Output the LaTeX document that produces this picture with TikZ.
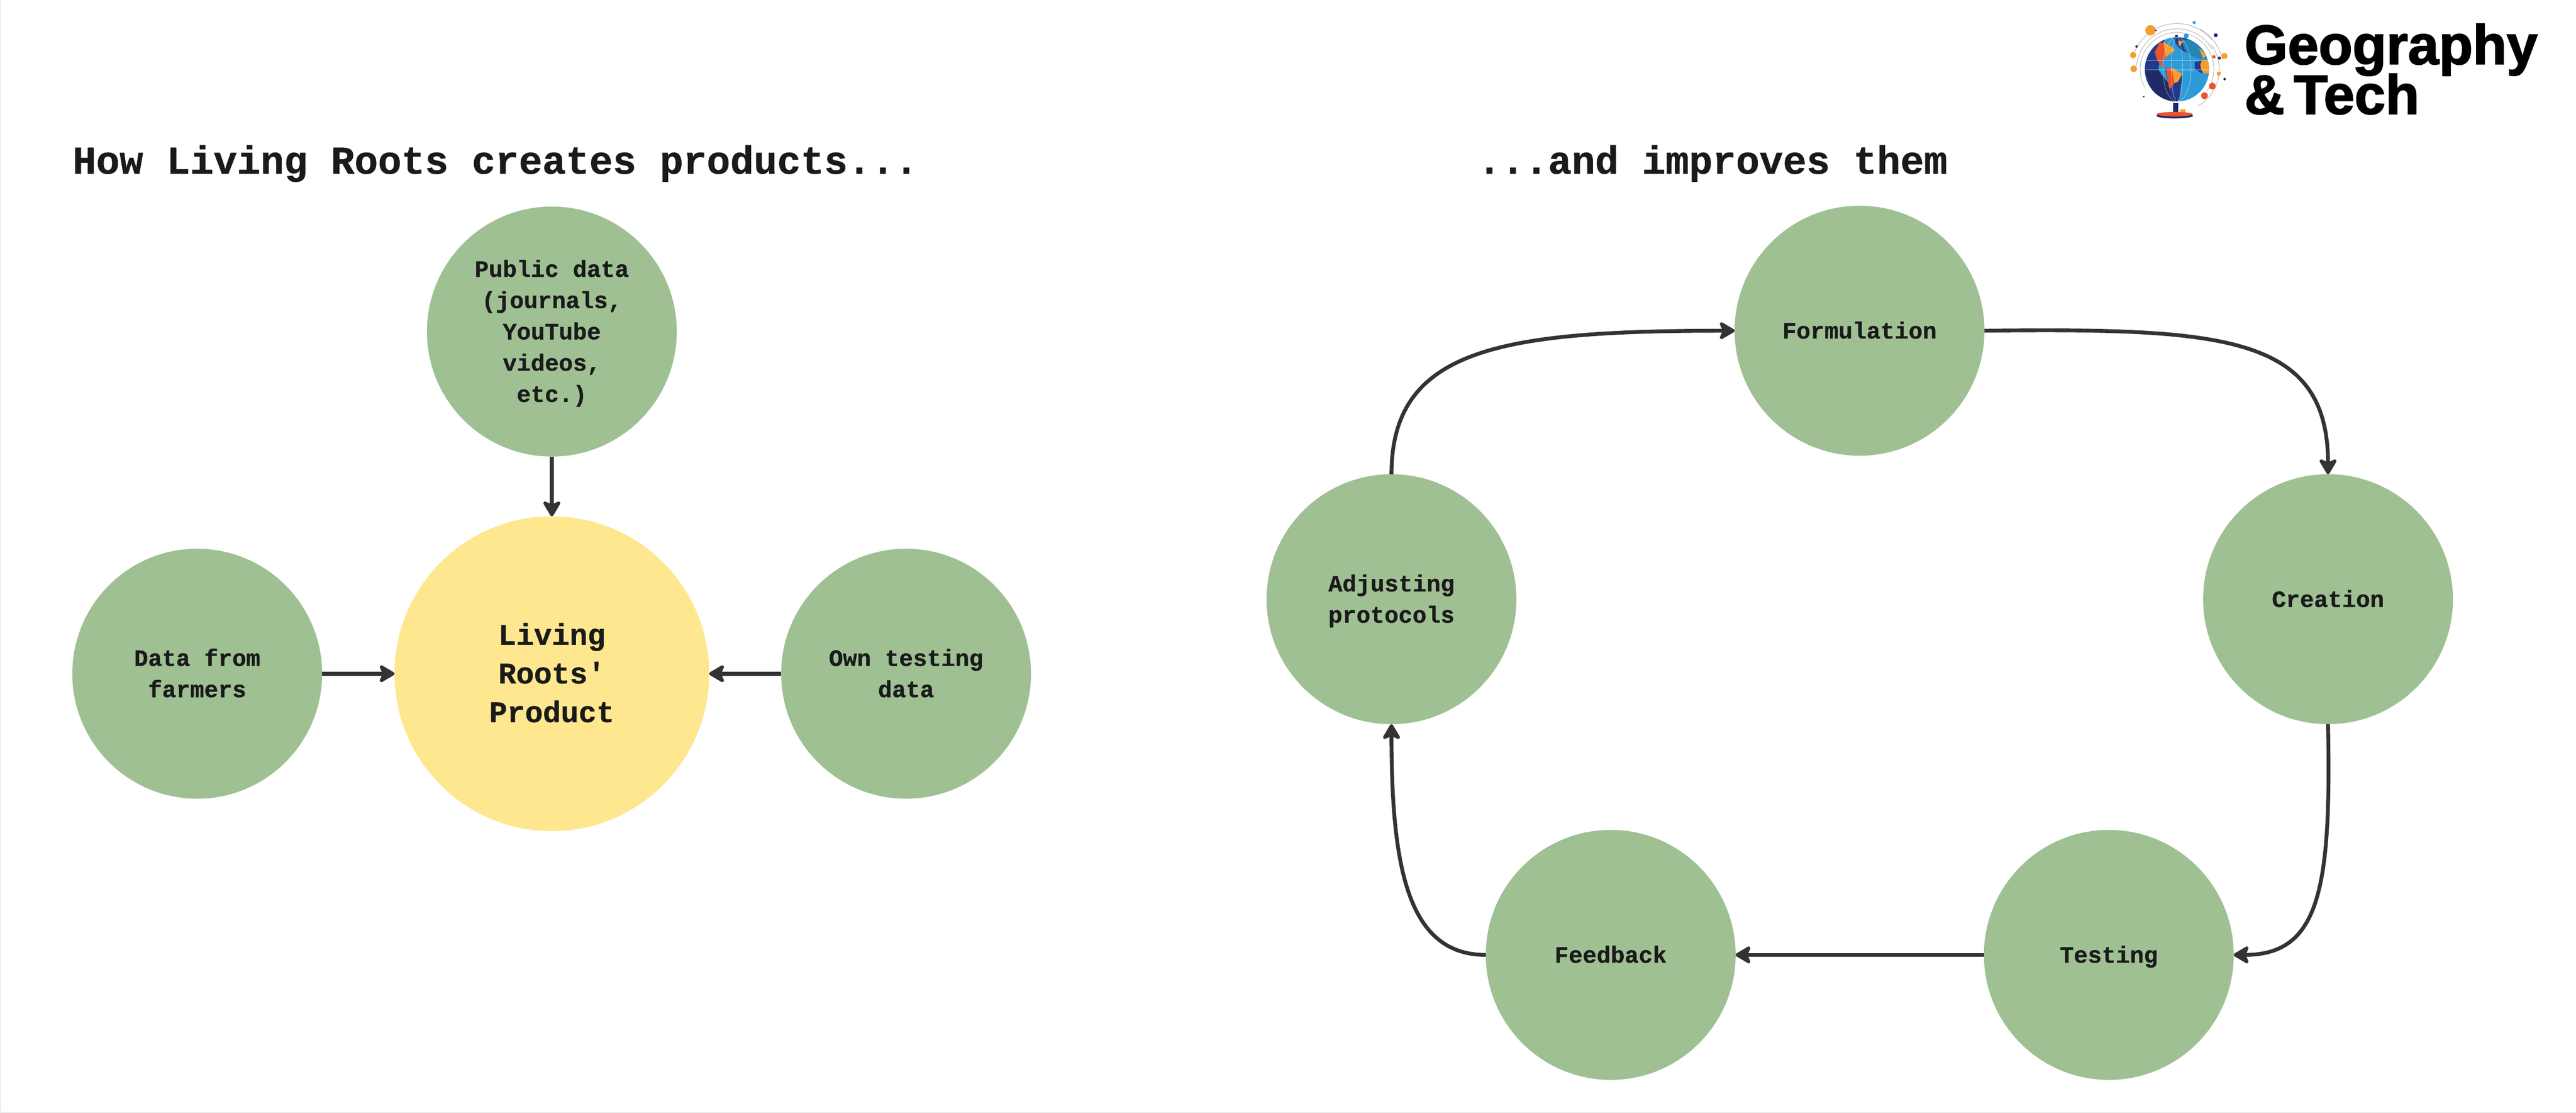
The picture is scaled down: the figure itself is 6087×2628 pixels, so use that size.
\documentclass[tikz,border=0pt]{standalone}
\usepackage{xcolor}
\usepackage{fontspec}
\usetikzlibrary{arrows.meta}
\newfontfamily\monofont[BoldFeatures={FakeBold=0.8}]{Liberation Mono}
\newfontfamily\logofont[BoldFeatures={FakeBold=2}]{Liberation Sans}
\newcommand{\labelstrut}{\rule[-0.25\baselineskip]{0pt}{\baselineskip}}
\definecolor{leaf}{HTML}{9FC093}
\definecolor{sun}{HTML}{FEE78F}
\definecolor{ink}{HTML}{1A1A1A}
\definecolor{wire}{HTML}{333333}
\definecolor{ocean}{HTML}{2E9BD6}
\definecolor{navy}{HTML}{233A8C}
\definecolor{deep}{HTML}{1F2A66}
\definecolor{fire}{HTML}{E8542F}
\definecolor{amber}{HTML}{F59E2E}
\tikzset{
	greennode/.style={circle,fill=leaf,minimum size=5.9cm,inner sep=0pt,outer sep=0pt,align=center,text=ink,
		font=\monofont\bfseries\fontsize{15.7}{21}\selectfont},
	yellownode/.style={greennode,fill=sun,minimum size=7.43cm,font=\monofont\bfseries\fontsize{20}{26}\selectfont},
	headnode/.style={anchor=base west,inner sep=0pt,text=ink,font=\monofont\bfseries\fontsize{26.3}{30}\selectfont},
	logonode/.style={anchor=base west,inner sep=0pt,text=black,align=left,font=\logofont\bfseries\fontsize{37.3}{36}\selectfont},
	flow/.style={draw=wire,line width=0.09cm,-{Stealth[length=0.43cm,width=0.5cm,inset=0.11cm,round]}},
	orbit/.style={draw=black!30,line width=0.012cm}
}
\begin{document}
\begin{tikzpicture}[x=0.01cm,y=-0.01cm]
\useasboundingbox (0,0) rectangle (6087,2628);
\draw[draw=black!8,line width=0.03cm] (1,0) -- (1,2627) -- (6087,2627);
% titles
\node[headnode] (headleft) at (171,410) {How Living Roots creates products...};
\node[headnode] (headright) at (3491,410) {...and improves them};
% left part
\node[yellownode] (product) at (1304,1591) {\labelstrut Living\\Roots'\\Product\labelstrut};
\foreach \name/\x/\y/\txt in {pubdata/1304/783/{Public data\\(journals,\\YouTube\\videos,\\etc.)},
	farmers/466/1591/{Data from\\farmers},owntest/2141/1591/{Own testing\\data},
	formul/4394/781/Formulation,creation/5501/1415/Creation,testing/4983/2255/Testing,
	feedback/3806/2255/Feedback,adjust/3288/1415/{Adjusting\\protocols}}
	{\node[greennode] (\name) at (\x,\y) {\labelstrut\txt\labelstrut};}
\draw[flow] (pubdata) -- (product);
\draw[flow] (farmers) -- (product);
\draw[flow] (owntest) -- (product);
% right part
\draw[flow] (adjust.north) .. controls +(0,-296) and +(-555,0) .. (formul.west);
\draw[flow] (formul.east) .. controls +(561,-6) and +(0,-330) .. (creation.north);
\draw[flow] (creation.south) .. controls +(8,392) and +(202,0) .. (testing.east);
\draw[flow] (testing) -- (feedback);
\draw[flow] (feedback.west) .. controls +(-183,0) and +(0,342) .. (adjust.south);
% logo, coordinates of a 3x crop
\begin{scope}[shift={(4990,30)},x=0.00333cm,y=-0.00333cm]
	\foreach \s/\e/\r in {150/395/262,185/330/288,-35/60/300,200/320/325,-60/-10/330}
		{\draw[orbit] (463,402) ++(\s:\r) arc[start angle=\s,end angle=\e,radius=\r];}
	\fill[deep] (450,160) rectangle (468,195);
	\fill[deep] (437,640) rectangle (473,705);
	\fill[amber] (485,686) rectangle (525,708);
	\fill[deep] (447,732) ellipse[x radius=130,y radius=18];
	\fill[fire] (447,720) ellipse[x radius=128,y radius=16];
	\fill[ocean] (463,402) circle[radius=228];
	\begin{scope}
		\clip (463,402) circle[radius=228];
		\fill[navy] (380,160) -- (330,400) -- (450,600) -- (480,640) -- (200,640) -- (200,160) -- cycle;
		\fill[deep] (235,400) -- (330,410) -- (480,600) -- (460,640) -- (300,600) -- cycle;
		\fill[navy] (380,400) -- (500,440) -- (480,620) -- (420,600) -- cycle;
		\fill[navy] (440,170) .. controls (460,300) and (600,300) .. (680,300) -- (700,170) -- cycle;
		\fill[ocean!85!black] (500,190) .. controls (500,300) and (600,330) .. (670,330) -- (690,190) -- cycle;
		\fill[amber] (620,250) -- (670,300) -- (650,330) -- cycle;
		\fill[navy] (590,350) -- (640,340) -- (640,430) -- (590,400) -- cycle;
		\fill[amber] (640,340) .. controls (620,370) and (630,410) .. (660,430) -- (700,430) -- (700,330) -- cycle;
		% north america
		\fill[fire] (340,210) -- (375,220) -- (385,320) -- (350,340) -- (380,385) -- (345,370) -- (320,330) -- (305,280) -- cycle;
		\fill[amber] (365,205) -- (420,240) -- (450,265) -- (395,305) -- (385,320) -- cycle;
		\fill[amber] (470,200) -- (510,200) -- (480,240) -- cycle;
		% south america
		\fill[fire] (385,395) -- (425,390) -- (445,500) -- (410,545) -- (400,500) -- cycle;
		\fill[amber] (425,390) -- (500,435) -- (470,490) -- (445,500) -- cycle;
		\draw[white,opacity=.5,line width=0.01cm] (235,340) -- (690,340) (235,405) -- (690,405);
		\draw[white,opacity=.5,line width=0.01cm] (463,402) ellipse[x radius=100,y radius=228] (463,402) ellipse[x radius=40,y radius=228];
	\end{scope}
	\foreach \x/\y/\r/\c in {275/125/37/amber,152/301/22/amber,156/398/23/amber,528/165/18/ocean,585/70/11/ocean,
		800/307/21/amber,760/432/15/amber,725/313/12/fire,714/521/24/fire,658/589/24/fire,
		738/160/14/deep,764/322/11/deep,801/471/9/deep,176/240/9/deep,313/126/6/deep,227/596/6/deep}
		{\fill[\c] (\x,\y) circle[radius=\r];}
\end{scope}
\node[logonode] (logotext) at (5303,269) {Geography\\[-2.55pt]\&\,Tech};
\end{tikzpicture}
\end{document}
